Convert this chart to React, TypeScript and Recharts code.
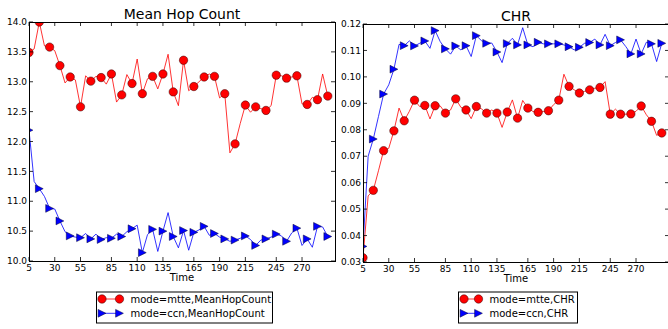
import { Line, LineChart, XAxis, YAxis } from "recharts";

const times = [
  5, 10, 15, 20, 25, 30, 35, 40, 45, 50, 55, 60, 65, 70, 75, 80, 85, 90, 95, 100,
  105, 110, 115, 120, 125, 130, 135, 140, 145, 150, 155, 160, 165, 170, 175, 180, 185, 190, 195, 200,
  205, 210, 215, 220, 225, 230, 235, 240, 245, 250, 255, 260, 265, 270, 275, 280, 285, 290, 295,
];
const timeTicks = [5, 30, 55, 85, 110, 135, 165, 190, 215, 245, 270];
const hopTicks = [10, 10.5, 11, 11.5, 12, 12.5, 13, 13.5, 14];
const chrTicks = [0.03, 0.04, 0.05, 0.06, 0.07, 0.08, 0.09, 0.1, 0.11, 0.12];

const hopMtte = [
  13.49, 13.55, 14.0, 13.6, 13.58, 13.52, 13.27, 12.98, 13.08, 13.03, 12.58, 13.1, 13.01, 13.09, 13.07,
  12.96, 13.13, 12.66, 12.78, 13.12, 12.97, 13.38, 12.8, 13.05, 13.09, 12.88, 13.13, 13.46, 12.83, 12.6,
  13.36, 12.85, 12.92, 13.0, 13.08, 13.13, 13.09, 12.73, 12.8, 11.81, 11.96, 12.3, 12.61, 12.49, 12.58,
  12.55, 12.52, 12.6, 13.11, 13.1, 13.06, 13.08, 13.1, 12.63, 12.62, 12.74, 12.7, 13.13, 12.76,
];
const hopCcn = [
  12.19, 11.33, 11.21, 11.08, 10.88, 10.87, 10.67, 10.49, 10.42, 10.4, 10.39, 10.46, 10.37, 10.45, 10.36,
  10.39, 10.38, 10.45, 10.41, 10.49, 10.54, 10.6, 10.14, 10.44, 10.53, 10.16, 10.5, 10.81, 10.41, 10.22,
  10.51, 10.18, 10.48, 10.52, 10.58, 10.43, 10.46, 10.4, 10.37, 10.33, 10.35, 10.38, 10.42, 10.36, 10.26,
  10.35, 10.37, 10.4, 10.45, 10.42, 10.33, 10.47, 10.55, 10.26, 10.37, 10.23, 10.58, 10.57, 10.41,
];
const chrMtte = [
  0.0316, 0.055, 0.0571, 0.0645, 0.0721, 0.073, 0.0796, 0.0882, 0.0834, 0.087, 0.0912, 0.0888, 0.0892, 0.0841, 0.0891,
  0.089, 0.0863, 0.0875, 0.0917, 0.0885, 0.0875, 0.0842, 0.0888, 0.0879, 0.0863, 0.0875, 0.0863, 0.0809, 0.0867, 0.0913,
  0.0844, 0.0911, 0.0882, 0.0869, 0.0866, 0.0869, 0.0872, 0.0895, 0.0912, 0.101, 0.0964, 0.0951, 0.0939, 0.0945, 0.0951,
  0.0957, 0.096, 0.0982, 0.0859, 0.0878, 0.0859, 0.0859, 0.086, 0.087, 0.089, 0.0857, 0.0832, 0.0779, 0.0788,
];
const chrCcn = [
  0.0359, 0.07, 0.0765, 0.085, 0.0935, 0.097, 0.1029, 0.1123, 0.1118, 0.1136, 0.1117, 0.1127, 0.1136, 0.1108, 0.1175,
  0.1133, 0.1106, 0.1086, 0.1117, 0.1102, 0.1118, 0.1077, 0.1156, 0.1137, 0.1127, 0.1128, 0.1094, 0.1054, 0.1126, 0.1146,
  0.1121, 0.1186, 0.1121, 0.1114, 0.1131, 0.1125, 0.1125, 0.1125, 0.1125, 0.1121, 0.1114, 0.1102, 0.1112, 0.1127, 0.113,
  0.1143, 0.1121, 0.1161, 0.1118, 0.113, 0.114, 0.1115, 0.1087, 0.1143, 0.1087, 0.1131, 0.1125, 0.1058, 0.1127,
];

const FONT = "DejaVu Sans, sans-serif";
const RED = "#ff0000";
const BLUE = "#0000ff";
const Y_AXIS_W = 29;
const X_AXIS_H = 30;
const PAGE_H = 329;

function circleMark(cx: number, cy: number, key?: string) {
  return <circle key={key} cx={cx} cy={cy} r={4.2} fill={RED} stroke="#300" strokeWidth={0.5} />;
}

function triangleMark(cx: number, cy: number, key?: string) {
  const s = 3.9;
  return (
    <polygon
      key={key}
      points={`${cx + s},${cy} ${cx - s},${cy - s} ${cx - s},${cy + s}`}
      fill={BLUE}
      stroke="#003"
      strokeWidth={0.5}
    />
  );
}

// markers only on every second sample, the thin line goes through all of them
const everyOther = (mark: typeof circleMark) => (p: any) => {
  const k = `m-${p.index}`;
  if (p.index % 2 !== 0 || p.cx == null || p.cy == null) return <g key={k} />;
  return mark(p.cx, p.cy, k);
};

type PanelProps = {
  plotLeft: number;
  plotRight: number;
  plotTop: number;
  plotBottom: number;
  mtte: number[];
  ccn: number[];
  yDomain: [number, number];
  yTicks: number[];
  digits: number;
};

function Panel({ plotLeft, plotRight, plotTop, plotBottom, mtte, ccn, yDomain, yTicks, digits }: PanelProps) {
  const data = times.map((t, i) => ({ time: t, mtte: mtte[i], ccn: ccn[i] }));
  const width = plotRight - plotLeft + Y_AXIS_W + 5;
  const top = plotTop;
  const bottom = plotBottom;
  const left = Y_AXIS_W;
  const right = plotRight - plotLeft + Y_AXIS_W;

  const xTick = (p: any) => (
    <g key={`xt-${p.payload.value}`}>
      <line x1={p.x} x2={p.x} y1={bottom} y2={bottom - 4} stroke="#000" strokeWidth={0.8} />
      <line x1={p.x} x2={p.x} y1={top} y2={top + 4} stroke="#000" strokeWidth={0.8} />
      <text x={p.x} y={bottom + 9.5} textAnchor="middle" fontSize={9} fontFamily={FONT} fill="#000">
        {p.payload.value}
      </text>
    </g>
  );
  const yTick = (p: any) => (
    <g key={`yt-${p.payload.value}`}>
      <line x1={left} x2={left + 4} y1={p.y} y2={p.y} stroke="#000" strokeWidth={0.8} />
      <line x1={right - 4} x2={right} y1={p.y} y2={p.y} stroke="#000" strokeWidth={0.8} />
      <text x={left - 2} y={p.y + 3.2} textAnchor="end" fontSize={9} fontFamily={FONT} fill="#000">
        {Number(p.payload.value).toFixed(digits)}
      </text>
    </g>
  );

  return (
    <div style={{ position: "absolute", left: plotLeft - Y_AXIS_W, top: 0 }}>
      <LineChart
        width={width}
        height={PAGE_H}
        data={data}
        margin={{ top: plotTop, right: 5, left: 0, bottom: PAGE_H - plotBottom - X_AXIS_H }}
      >
        <XAxis
          dataKey="time"
          type="number"
          domain={[5, 302]}
          ticks={timeTicks}
          allowDataOverflow
          height={X_AXIS_H}
          axisLine={false}
          tickLine={false}
          tick={xTick}
          interval={0}
        />
        <YAxis
          type="number"
          domain={yDomain}
          ticks={yTicks}
          allowDataOverflow
          width={Y_AXIS_W}
          axisLine={false}
          tickLine={false}
          tick={yTick}
          interval={0}
        />
        <Line
          dataKey="mtte"
          type="linear"
          stroke={RED}
          strokeWidth={0.8}
          dot={everyOther(circleMark)}
          activeDot={false}
          isAnimationActive={false}
        />
        <Line
          dataKey="ccn"
          type="linear"
          stroke={BLUE}
          strokeWidth={0.8}
          dot={everyOther(triangleMark)}
          activeDot={false}
          isAnimationActive={false}
        />
      </LineChart>
    </div>
  );
}

function LegendRows({ x, y, width, sample, labels }: { x: number; y: number; width: number; sample: number; labels: string[] }) {
  const rows = [
    { color: RED, mark: circleMark, label: labels[0] },
    { color: BLUE, mark: triangleMark, label: labels[1] },
  ];
  return (
    <g>
      <rect x={x + 0.5} y={y + 0.5} width={width} height={31} fill="#fff" stroke="#000" strokeWidth={1} />
      {rows.map((r, i) => {
        const cy = y + 7.5 + i * 14.3;
        const x1 = x + 6;
        const x2 = x1 + sample;
        return (
          <g key={r.label}>
            <line x1={x1} x2={x2} y1={cy} y2={cy} stroke={r.color} strokeWidth={0.8} />
            {r.mark(x1, cy)}
            {r.mark(x2, cy)}
            <text x={x2 + 11} y={cy + 3.6} fontSize={10} fontFamily={FONT} fill="#000">
              {r.label}
            </text>
          </g>
        );
      })}
    </g>
  );
}

export default function App() {
  const L = { plotLeft: 29, plotRight: 335, plotTop: 22, plotBottom: 261 };
  const R = { plotLeft: 363, plotRight: 669, plotTop: 24, plotBottom: 262 };
  return (
    <div
      style={{
        position: "fixed",
        left: 0,
        top: 0,
        width: 668,
        height: PAGE_H,
        overflow: "hidden",
        background: "#fff",
        fontFamily: FONT,
      }}
    >
      <Panel {...L} mtte={hopMtte} ccn={hopCcn} yDomain={[10, 14]} yTicks={hopTicks} digits={1} />
      <Panel {...R} mtte={chrMtte} ccn={chrCcn} yDomain={[0.03, 0.12]} yTicks={chrTicks} digits={2} />
      <svg width={668} height={PAGE_H} style={{ position: "absolute", left: 0, top: 0, pointerEvents: "none" }}>
        {[L, R].map((p) => (
          <rect
            key={p.plotLeft}
            x={p.plotLeft + 0.5}
            y={p.plotTop + 0.5}
            width={p.plotRight - p.plotLeft}
            height={p.plotBottom - p.plotTop}
            fill="none"
            stroke="#000"
            strokeWidth={1}
          />
        ))}
        <text x={(L.plotLeft + L.plotRight) / 2} y={18.5} textAnchor="middle" fontSize={14} fontFamily={FONT}>
          Mean Hop Count
        </text>
        <text x={(R.plotLeft + R.plotRight) / 2} y={20.5} textAnchor="middle" fontSize={14} fontFamily={FONT}>
          CHR
        </text>
        <text x={(L.plotLeft + L.plotRight) / 2} y={281} textAnchor="middle" fontSize={10} fontFamily={FONT}>
          Time
        </text>
        <text x={(R.plotLeft + R.plotRight) / 2} y={282} textAnchor="middle" fontSize={10} fontFamily={FONT}>
          Time
        </text>
        <LegendRows
          x={96}
          y={291.5}
          width={176}
          sample={17.5}
          labels={["mode=mtte,MeanHopCount", "mode=ccn,MeanHopCount"]}
        />
        <LegendRows x={458} y={291.5} width={119} sample={14.5} labels={["mode=mtte,CHR", "mode=ccn,CHR"]} />
      </svg>
    </div>
  );
}
